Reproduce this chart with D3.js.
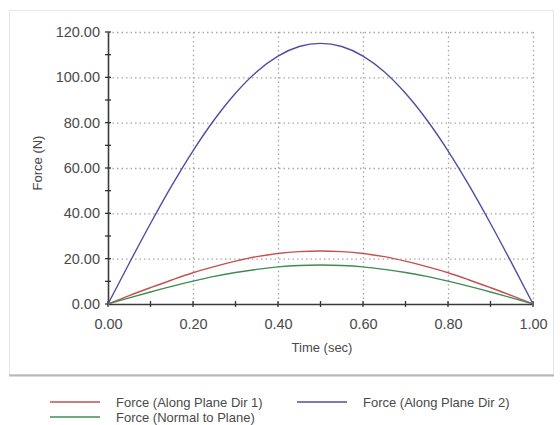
<!DOCTYPE html>
<html lang="en">
<head>
<meta charset="utf-8">
<title>Force vs Time</title>
<script src="https://cdn.jsdelivr.net/npm/d3@7"></script>
<style>
  body { margin: 0; background: #ffffff; font-family: "Liberation Sans", Arial, sans-serif; }
</style>
</head>
<body>
<script>
// data (time in sec, force in N)
var times = [0, 0.05, 0.1, 0.15, 0.2, 0.25, 0.3, 0.35, 0.4, 0.45, 0.5,
             0.55, 0.6, 0.65, 0.7, 0.75, 0.8, 0.85, 0.9, 0.95, 1.0];
var dir1 = [0, 3.7, 7.2, 10.6, 13.8, 16.5, 18.9, 20.9, 22.3, 23.1, 23.4,
            23.1, 22.3, 20.9, 18.9, 16.5, 13.8, 10.6, 7.2, 3.7, 0];
var dir2 = [0, 18.0, 35.5, 52.2, 67.6, 81.3, 93.0, 102.5, 109.4, 113.6, 115.0,
            113.6, 109.4, 102.5, 93.0, 81.3, 67.6, 52.2, 35.5, 18.0, 0];
var normal = [0, 2.7, 5.3, 7.8, 10.1, 12.2, 13.9, 15.3, 16.4, 17.0, 17.2,
              17.0, 16.4, 15.3, 13.9, 12.2, 10.1, 7.8, 5.3, 2.7, 0];

var seriesNames = ["Force (Along Plane Dir 1)", "Force (Along Plane Dir 2)", "Force (Normal to Plane)"];
var seriesColors = ["#c65050", "#4e4ea6", "#3f8c50"];
var seriesData = [dir1, dir2, normal];

var xTicks = [0, 0.2, 0.4, 0.6, 0.8, 1.0];
var yTicks = [0, 20, 40, 60, 80, 100, 120];

var w = 560, h = 425;
var plotLeft = 108, plotRight = 533, plotTop = 32, plotBottom = 304;

var svg = d3.select("body").append("svg")
  .attr("width", w).attr("height", h);

// outer panel
svg.append("rect")
  .attr("x", 9.5).attr("y", 10.5)
  .attr("width", 544).attr("height", 364)
  .attr("fill", "#ffffff")
  .attr("stroke", "#e6e6e6");
svg.append("line")
  .attr("x1", 9).attr("x2", 554)
  .attr("y1", 375.5).attr("y2", 375.5)
  .attr("stroke", "#b8b8b8").attr("stroke-width", 2);

var x = d3.scaleLinear().domain([0, 1]).range([plotLeft, plotRight]);
var y = d3.scaleLinear().domain([0, 120]).range([plotBottom, plotTop]);

// grid
svg.append("g").selectAll("line")
  .data(xTicks.slice(1))
  .enter().append("line")
  .attr("x1", function(d) { return x(d) + 0.5; })
  .attr("x2", function(d) { return x(d) + 0.5; })
  .attr("y1", plotTop).attr("y2", plotBottom)
  .attr("stroke", "#a8a8a8").attr("stroke-width", 1.3)
  .attr("stroke-dasharray", "1.5,3");
svg.append("g").selectAll("line")
  .data(yTicks.slice(1))
  .enter().append("line")
  .attr("y1", function(d) { return y(d) + 0.5; })
  .attr("y2", function(d) { return y(d) + 0.5; })
  .attr("x1", plotLeft).attr("x2", plotRight)
  .attr("stroke", "#a8a8a8").attr("stroke-width", 1.3)
  .attr("stroke-dasharray", "1.5,3");

// axes
var xAxis = d3.axisBottom(x)
  .tickValues(xTicks)
  .tickFormat(d3.format(".2f"))
  .tickSize(0).tickPadding(15);
var yAxis = d3.axisLeft(y)
  .tickValues(yTicks)
  .tickFormat(d3.format(".2f"))
  .tickSize(0).tickPadding(8);

var gx = svg.append("g")
  .attr("transform", "translate(0," + plotBottom + ")")
  .call(xAxis);
var gy = svg.append("g")
  .attr("transform", "translate(" + plotLeft + ",0)")
  .call(yAxis);

[gx, gy].forEach(function(g) {
  g.select(".domain").attr("stroke", "#3a3a3a").attr("stroke-width", 1.6);
  g.selectAll("text")
    .attr("font-family", "Liberation Sans, Arial, sans-serif")
    .attr("font-size", 14.5)
    .attr("fill", "#4a4a4a");
});

// tick marks (major crossing, minor small)
var xMinor = d3.range(0, 1.0001, 0.1);
svg.append("g").selectAll("line")
  .data(xMinor)
  .enter().append("line")
  .attr("x1", function(d) { return x(d); })
  .attr("x2", function(d) { return x(d); })
  .attr("y1", plotBottom - 3).attr("y2", plotBottom + 3)
  .attr("stroke", "#333").attr("stroke-width", 1.3);
var yMinor = d3.range(0, 120.001, 10);
svg.append("g").selectAll("line")
  .data(yMinor)
  .enter().append("line")
  .attr("y1", function(d) { return y(d); })
  .attr("y2", function(d) { return y(d); })
  .attr("x1", plotLeft - 3).attr("x2", plotLeft + 3)
  .attr("stroke", "#333").attr("stroke-width", 1.3);

// axis titles
svg.append("text")
  .attr("x", 322).attr("y", 352)
  .attr("text-anchor", "middle")
  .attr("font-size", 13).attr("fill", "#4a4a4a")
  .text("Time (sec)");
svg.append("text")
  .attr("transform", "translate(42,163) rotate(-90)")
  .attr("text-anchor", "middle")
  .attr("font-size", 13).attr("fill", "#4a4a4a")
  .text("Force (N)");

// lines
var line = d3.line()
  .x(function(d, i) { return x(times[i]); })
  .y(function(d) { return y(d); })
  .curve(d3.curveMonotoneX);

svg.append("g").selectAll("path")
  .data(seriesData)
  .enter().append("path")
  .attr("d", line)
  .attr("fill", "none")
  .attr("stroke", function(d, i) { return seriesColors[i]; })
  .attr("stroke-width", 1.4);

// legend
var legendPos = [[50, 402], [297, 402], [50, 417]];
var lg = svg.append("g").selectAll("g")
  .data(seriesNames)
  .enter().append("g")
  .attr("transform", function(d, i) { return "translate(" + legendPos[i][0] + "," + legendPos[i][1] + ")"; });
lg.append("line")
  .attr("x1", 0).attr("x2", 50)
  .attr("stroke", function(d, i) { return seriesColors[i]; })
  .attr("stroke-width", 1.4);
lg.append("text")
  .attr("x", 66).attr("y", 4.5)
  .attr("font-size", 13).attr("fill", "#4a4a4a")
  .text(function(d) { return d; });
</script>
</body>
</html>
